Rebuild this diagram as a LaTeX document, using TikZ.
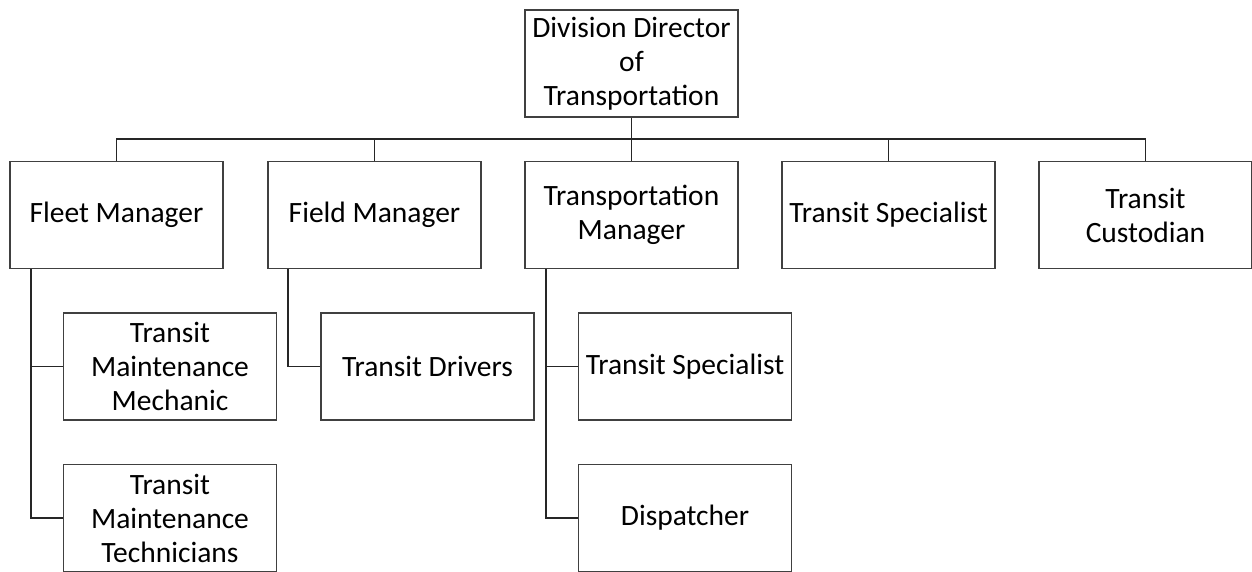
\documentclass[tikz,border=0pt]{standalone}
\usepackage{fontspec}
\setmainfont{Carlito}
\begin{document}
\begin{tikzpicture}[x=1pt,y=-1pt,
  box/.style={draw=black!75,line width=1.6pt,fill=white,minimum width=213pt,minimum height=107pt,
    inner sep=0pt,align=center,font=\fontsize{29.5}{34}\selectfont},
  link/.style={draw=black!85,line width=1.6pt}]
\useasboundingbox (0,0) rectangle (1252,572);
\node[box] (dd) at (631.5,63.5) {Division Director\\of\\Transportation};
\node[box] (fm) at (116.5,215) {Fleet Manager};
\node[box] (fd) at (374.5,215) {Field Manager};
\node[box] (tm) at (631.5,215) {Transportation\\Manager};
\node[box] (ts) at (888.5,215) {Transit Specialist};
\node[box] (tc) at (1145.5,215) {Transit\\Custodian};
\node[box] (mm) at (170,366.5) {Transit\\Maintenance\\Mechanic};
\node[box] (mt) at (170,518) {Transit\\Maintenance\\Technicians};
\node[box] (dr) at (427.5,366.5) {Transit Drivers};
\node[box] (sp) at (685,366.5) {Transit Specialist};
\node[box] (di) at (685,518) {Dispatcher};
\coordinate (bus) at (631.5,139);
\draw[link] (dd.south) -- (bus);
\draw[link] (fm.north) |- (bus) -| (tc.north);
\draw[link] (fd.north) -- (fd.north |- bus);
\draw[link] (tm.north) -- (tm.north |- bus);
\draw[link] (ts.north) -- (ts.north |- bus);
\coordinate (fl) at ([xshift=22pt]fm.south west);
\coordinate (fdl) at ([xshift=21pt]fd.south west);
\coordinate (tml) at ([xshift=22pt]tm.south west);
\draw[link] (fl) |- (mm.west);
\draw[link] (fl) |- (mt.west);
\draw[link] (fdl) |- (dr.west);
\draw[link] (tml) |- (sp.west);
\draw[link] (tml) |- (di.west);
\end{tikzpicture}
\end{document}
